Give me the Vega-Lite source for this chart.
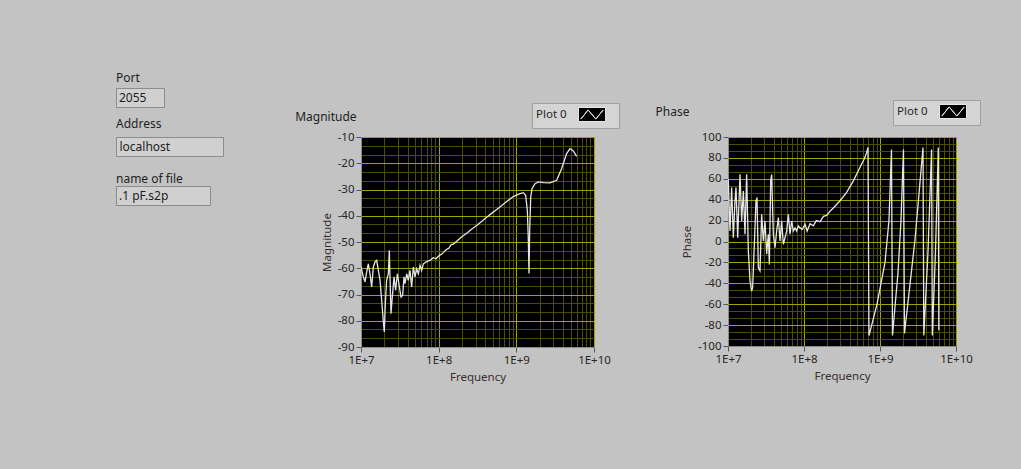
{
  "$schema": "https://vega.github.io/schema/vega-lite/v6.json",
  "background": "#c3c3c3",
  "padding": {"left": 115, "top": 71, "right": 52, "bottom": 86},
  "config": {
    "font": "Noto Sans",
    "view": {"stroke": null},
    "title": {"font": "Noto Sans", "fontWeight": "normal", "fontSize": 12, "color": "#1e1e1e", "anchor": "start"},
    "axis": {
      "labelFont": "Noto Sans", "labelFontSize": 11.5, "labelColor": "#262626",
      "titleFont": "Noto Sans", "titleFontSize": 11.5, "titleFontWeight": "normal", "titleColor": "#3a2f2f",
      "domainColor": "#8a8a8a", "tickColor": "#555555", "tickSize": 5, "labelPadding": 2,
      "labelFlush": false, "labelOverlap": false, "gridWidth": 1
    },
    "legend": {
      "orient": "none", "titleOrient": "left", "titleFontWeight": "normal", "titleFontSize": 11.5, "titleColor": "#262626", "titleFont": "Noto Sans", "titlePadding": 17.5,
      "labelOffset": 15.5, "symbolSize": 196, "symbolStrokeWidth": 1,
      "padding": 4, "fillColor": "#d4d4d4", "strokeColor": "#a0a0a0"
    }
  },
  "datasets": {
    "mag": [
      {"f": 1.000e7, "v": -59.5}, {"f": 1.072e7, "v": -63.3}, {"f": 1.126e7, "v": -65.2}, {"f": 1.183e7, "v": -61.4},
      {"f": 1.242e7, "v": -58.3}, {"f": 1.306e7, "v": -62.1}, {"f": 1.372e7, "v": -67.1}, {"f": 1.442e7, "v": -59.5},
      {"f": 1.514e7, "v": -57.6}, {"f": 1.592e7, "v": -57.0}, {"f": 1.672e7, "v": -60.8}, {"f": 1.758e7, "v": -64.6},
      {"f": 1.845e7, "v": -72.2}, {"f": 1.941e7, "v": -80.5}, {"f": 1.995e7, "v": -84.3}, {"f": 2.056e7, "v": -73.5},
      {"f": 2.138e7, "v": -64.6}, {"f": 2.249e7, "v": -62.1}, {"f": 2.316e7, "v": -53.2}, {"f": 2.362e7, "v": -63.3},
      {"f": 2.432e7, "v": -77.3}, {"f": 2.529e7, "v": -71.0}, {"f": 2.660e7, "v": -63.3}, {"f": 2.794e7, "v": -68.4},
      {"f": 2.938e7, "v": -62.1}, {"f": 3.119e7, "v": -67.1}, {"f": 3.275e7, "v": -71.0}, {"f": 3.439e7, "v": -70.3},
      {"f": 3.581e7, "v": -63.3}, {"f": 3.690e7, "v": -65.9}, {"f": 3.873e7, "v": -62.1}, {"f": 4.064e7, "v": -64.6},
      {"f": 4.276e7, "v": -60.8}, {"f": 4.487e7, "v": -67.1}, {"f": 4.721e7, "v": -59.5}, {"f": 4.955e7, "v": -63.3},
      {"f": 5.212e7, "v": -60.2}, {"f": 5.470e7, "v": -62.1}, {"f": 5.754e7, "v": -58.9}, {"f": 6.039e7, "v": -60.8},
      {"f": 6.353e7, "v": -58.3}, {"f": 7.000e7, "v": -57.5}, {"f": 7.727e7, "v": -57.0}, {"f": 8.531e7, "v": -56.0},
      {"f": 9.300e7, "v": -56.4}, {"f": 1.021e8, "v": -55.1}, {"f": 1.10e8, "v": -54.6}, {"f": 1.20e8, "v": -53.4},
      {"f": 1.268e8, "v": -52.8}, {"f": 1.35e8, "v": -52.4}, {"f": 1.45e8, "v": -51.0}, {"f": 1.55e8, "v": -50.8},
      {"f": 1.706e8, "v": -49.7}, {"f": 2.00e8, "v": -47.9}, {"f": 2.295e8, "v": -46.7}, {"f": 2.65e8, "v": -45.1},
      {"f": 3.085e8, "v": -43.7}, {"f": 3.60e8, "v": -42.1}, {"f": 4.150e8, "v": -40.6}, {"f": 4.85e8, "v": -39.0},
      {"f": 5.585e8, "v": -37.6}, {"f": 6.50e8, "v": -36.1}, {"f": 7.516e8, "v": -34.6}, {"f": 9.14e8, "v": -32.7},
      {"f": 1.114e9, "v": -31.6}, {"f": 1.230e9, "v": -31.2}, {"f": 1.318e9, "v": -32.2}, {"f": 1.386e9, "v": -38.0},
      {"f": 1.428e9, "v": -49.4}, {"f": 1.456e9, "v": -62.0}, {"f": 1.486e9, "v": -45.5}, {"f": 1.531e9, "v": -32.9},
      {"f": 1.592e9, "v": -29.7}, {"f": 1.740e9, "v": -27.8}, {"f": 1.920e9, "v": -27.1}, {"f": 2.227e9, "v": -27.4},
      {"f": 2.712e9, "v": -27.5}, {"f": 3.306e9, "v": -26.5}, {"f": 3.835e9, "v": -22.0}, {"f": 4.446e9, "v": -16.3},
      {"f": 4.909e9, "v": -14.4}, {"f": 5.418e9, "v": -15.3}, {"f": 5.979e9, "v": -17.4}
    ],
    "phase": [
      {"f": 1.000e7, "v": 60}, {"f": 1.010e7, "v": 58}, {"f": 1.062e7, "v": 10}, {"f": 1.117e7, "v": 51.6},
      {"f": 1.175e7, "v": 3.7}, {"f": 1.236e7, "v": 38.8}, {"f": 1.274e7, "v": 51.6}, {"f": 1.341e7, "v": 3.7},
      {"f": 1.439e7, "v": 64.3}, {"f": 1.513e7, "v": 19.6}, {"f": 1.592e7, "v": 48.3}, {"f": 1.674e7, "v": 6.9},
      {"f": 1.760e7, "v": 64.3}, {"f": 1.851e7, "v": -9}, {"f": 1.948e7, "v": -37.8}, {"f": 2.048e7, "v": -47.4},
      {"f": 2.111e7, "v": -44}, {"f": 2.221e7, "v": -2.7}, {"f": 2.336e7, "v": 38.8}, {"f": 2.408e7, "v": 42},
      {"f": 2.507e7, "v": -25}, {"f": 2.637e7, "v": -28}, {"f": 2.773e7, "v": 26}, {"f": 2.917e7, "v": 0.5},
      {"f": 3.068e7, "v": 19.6}, {"f": 3.227e7, "v": -12}, {"f": 3.394e7, "v": 7}, {"f": 3.499e7, "v": -22},
      {"f": 3.643e7, "v": 58}, {"f": 3.755e7, "v": 64}, {"f": 3.949e7, "v": 7}, {"f": 4.153e7, "v": -6},
      {"f": 4.369e7, "v": 10}, {"f": 4.595e7, "v": 23}, {"f": 4.833e7, "v": 0.5}, {"f": 5.083e7, "v": 19.6},
      {"f": 5.347e7, "v": -2.7}, {"f": 5.623e7, "v": 3.7}, {"f": 5.914e7, "v": 10}, {"f": 6.221e7, "v": 26},
      {"f": 6.543e7, "v": 7}, {"f": 6.882e7, "v": 19.6}, {"f": 7.237e7, "v": 10}, {"f": 7.613e7, "v": 13},
      {"f": 8.007e7, "v": 10}, {"f": 8.422e7, "v": 15}, {"f": 8.858e7, "v": 13}, {"f": 9.508e7, "v": 11.7},
      {"f": 1.031e8, "v": 16.5}, {"f": 1.10e8, "v": 10}, {"f": 1.20e8, "v": 17}, {"f": 1.33e8, "v": 15},
      {"f": 1.45e8, "v": 20}, {"f": 1.63e8, "v": 19}, {"f": 1.80e8, "v": 24}, {"f": 1.99e8, "v": 25},
      {"f": 2.20e8, "v": 29}, {"f": 2.43e8, "v": 32}, {"f": 2.98e8, "v": 39}, {"f": 3.64e8, "v": 47},
      {"f": 4.46e8, "v": 58}, {"f": 5.46e8, "v": 71}, {"f": 6.20e8, "v": 79}, {"f": 6.68e8, "v": 85},
      {"f": 6.95e8, "v": 90}, {"f": 7.16e8, "v": -90}, {"f": 9.14e8, "v": -60}, {"f": 1.164e9, "v": -20},
      {"f": 1.312e9, "v": 20}, {"f": 1.416e9, "v": 88}, {"f": 1.459e9, "v": -90}, {"f": 1.725e9, "v": -30},
      {"f": 1.888e9, "v": 20}, {"f": 2.037e9, "v": 88}, {"f": 2.100e9, "v": -88}, {"f": 2.89e9, "v": 2},
      {"f": 3.68e9, "v": 90}, {"f": 3.77e9, "v": -90}, {"f": 4.28e9, "v": -10}, {"f": 4.77e9, "v": 88},
      {"f": 4.88e9, "v": -90}, {"f": 5.37e9, "v": -10}, {"f": 5.85e9, "v": 90}, {"f": 5.94e9, "v": -85}
    ]
  },
  "spacing": -9,
  "resolve": {"scale": {"color": "independent"}, "legend": {"color": "independent"}},
  "vconcat": [
    {
      "width": 48, "height": 19,
      "title": {"text": "Port", "offset": 3},
      "view": {"fill": "#d0d0d0", "stroke": "#8c8c8c"},
      "data": {"values": [{"value": "2055"}]},
      "mark": {"type": "text", "align": "left", "dx": -21, "fontSize": 12, "color": "#1e1e1e", "font": "Noto Sans"},
      "encoding": {"text": {"field": "value"}}
    },
    {
      "spacing": 70,
      "resolve": {"scale": {"color": "independent"}, "legend": {"color": "independent"}},
      "hconcat": [
        {
          "spacing": 15,
          "vconcat": [
            {
              "width": 107, "height": 19,
              "title": {"text": "Address", "offset": 6},
              "view": {"fill": "#d0d0d0", "stroke": "#8c8c8c"},
              "data": {"values": [{"value": "localhost"}]},
              "mark": {"type": "text", "align": "left", "dx": -50, "fontSize": 12, "color": "#1e1e1e", "font": "Noto Sans"},
              "encoding": {"text": {"field": "value"}}
            },
            {
              "width": 94, "height": 19,
              "title": {"text": "name of file", "offset": 0},
              "view": {"fill": "#d0d0d0", "stroke": "#8c8c8c"},
              "data": {"values": [{"value": ".1 pF.s2p"}]},
              "mark": {"type": "text", "align": "left", "dx": -44, "fontSize": 12, "color": "#1e1e1e", "font": "Noto Sans"},
              "encoding": {"text": {"field": "value"}}
            }
          ]
        },
        {
          "spacing": 35,
          "resolve": {"scale": {"color": "independent"}, "legend": {"color": "independent"}},
          "hconcat": [
            {
              "width": 233, "height": 210,
              "view": {"fill": "#000000", "stroke": "#9a9a9a"},
              "title": {"text": "Magnitude", "frame": "bounds", "dx": -26, "dy": 21, "offset": 0},
              "data": {"name": "mag"},
              "mark": {"type": "line", "strokeWidth": 1.3, "clip": true},
              "encoding": {
                "x": {
                  "field": "f", "type": "quantitative",
                  "scale": {"type": "log", "domain": [1e7, 1e10], "nice": false},
                  "axis": {
                    "title": "Frequency", "titlePadding": 6,
                    "values": [1e7, 2e7, 3e7, 4e7, 5e7, 6e7, 7e7, 8e7, 9e7, 1e8, 2e8, 3e8, 4e8, 5e8, 6e8, 7e8, 8e8, 9e8, 1e9, 2e9, 3e9, 4e9, 5e9, 6e9, 7e9, 8e9, 9e9, 1e10],
                    "labelExpr": "abs(log(datum.value)/LN10 - round(log(datum.value)/LN10)) < 0.001 ? '1E+' + round(log(datum.value)/LN10) : ''",
                    "grid": true,
                    "gridColor": {"condition": {"test": "abs(log(datum.value)/LN10 - round(log(datum.value)/LN10)) < 0.001", "value": "#a3a300"}, "value": "#4d4d00"},
                    "tickOpacity": {"condition": {"test": "abs(log(datum.value)/LN10 - round(log(datum.value)/LN10)) < 0.001", "value": 1}, "value": 0}
                  }
                },
                "y": {
                  "field": "v", "type": "quantitative",
                  "scale": {"domain": [-90, -10], "nice": false, "zero": false},
                  "axis": {
                    "title": "Magnitude", "titlePadding": 5,
                    "values": [-90, -86.6667, -83.3333, -80, -76.6667, -73.3333, -70, -66.6667, -63.3333, -60, -56.6667, -53.3333, -50, -46.6667, -43.3333, -40, -36.6667, -33.3333, -30, -26.6667, -23.3333, -20, -16.6667, -13.3333, -10],
                    "labelExpr": "abs(datum.value % 10) < 0.01 ? '' + round(datum.value) : ''",
                    "grid": true,
                    "gridColor": {"condition": {"test": "abs(datum.value % 10) < 0.01", "value": "#a3a300"}, "value": "#4d4d00"},
                    "tickOpacity": {"condition": {"test": "abs(datum.value % 10) < 0.01", "value": 1}, "value": 0}
                  }
                },
                "color": {
                  "datum": "Plot 0",
                  "scale": {"range": ["#e6e6e6"]},
                  "legend": {
                    "legendX": 171, "legendY": -34,
                    "title": "Plot 0",
                    "labelExpr": "''",
                    "symbolType": "M-1.93,-1H1.93V1H-1.93Z M-1.6,0.65L-0.55,-0.65L0.55,0.65L1.6,-0.65L0.55,0.65L-0.55,-0.65Z",
                    "encode": {"symbols": {"update": {"fill": {"value": "#000000"}, "stroke": {"value": "#e8e8e8"}, "opacity": {"value": 1}}}}
                  }
                }
              }
            },
            {
              "width": 228, "height": 209,
              "view": {"fill": "#000000", "stroke": "#9a9a9a"},
              "title": {"text": "Phase", "frame": "bounds", "dx": -26, "dy": 19, "offset": 0},
              "data": {"name": "phase"},
              "mark": {"type": "line", "strokeWidth": 1.3, "clip": true},
              "encoding": {
                "x": {
                  "field": "f", "type": "quantitative",
                  "scale": {"type": "log", "domain": [1e7, 1e10], "nice": false},
                  "axis": {
                    "title": "Frequency", "titlePadding": 6,
                    "values": [1e7, 2e7, 3e7, 4e7, 5e7, 6e7, 7e7, 8e7, 9e7, 1e8, 2e8, 3e8, 4e8, 5e8, 6e8, 7e8, 8e8, 9e8, 1e9, 2e9, 3e9, 4e9, 5e9, 6e9, 7e9, 8e9, 9e9, 1e10],
                    "labelExpr": "abs(log(datum.value)/LN10 - round(log(datum.value)/LN10)) < 0.001 ? '1E+' + round(log(datum.value)/LN10) : ''",
                    "grid": true,
                    "gridColor": {"condition": {"test": "abs(log(datum.value)/LN10 - round(log(datum.value)/LN10)) < 0.001", "value": "#a3a300"}, "value": "#4d4d00"},
                    "tickOpacity": {"condition": {"test": "abs(log(datum.value)/LN10 - round(log(datum.value)/LN10)) < 0.001", "value": 1}, "value": 0}
                  }
                },
                "y": {
                  "field": "v", "type": "quantitative",
                  "scale": {"domain": [-100, 100], "nice": false, "zero": false},
                  "axis": {
                    "title": "Phase", "titlePadding": 5,
                    "values": [-100, -93.3333, -86.6667, -80, -73.3333, -66.6667, -60, -53.3333, -46.6667, -40, -33.3333, -26.6667, -20, -13.3333, -6.6667, 0, 6.6667, 13.3333, 20, 26.6667, 33.3333, 40, 46.6667, 53.3333, 60, 66.6667, 73.3333, 80, 86.6667, 93.3333, 100],
                    "labelExpr": "abs(datum.value % 20) < 0.01 ? '' + round(datum.value) : ''",
                    "grid": true,
                    "gridColor": {"condition": {"test": "abs(datum.value % 20) < 0.01", "value": "#a3a300"}, "value": "#4d4d00"},
                    "tickOpacity": {"condition": {"test": "abs(datum.value % 20) < 0.01", "value": 1}, "value": 0}
                  }
                },
                "color": {
                  "datum": "Plot 0",
                  "scale": {"range": ["#e6e6e6"]},
                  "legend": {
                    "legendX": 165, "legendY": -37,
                    "title": "Plot 0",
                    "labelExpr": "''",
                    "symbolType": "M-1.93,-1H1.93V1H-1.93Z M-1.6,0.65L-0.55,-0.65L0.55,0.65L1.6,-0.65L0.55,0.65L-0.55,-0.65Z",
                    "encode": {"symbols": {"update": {"fill": {"value": "#000000"}, "stroke": {"value": "#e8e8e8"}, "opacity": {"value": 1}}}}
                  }
                }
              }
            }
          ]
        }
      ]
    }
  ]
}
